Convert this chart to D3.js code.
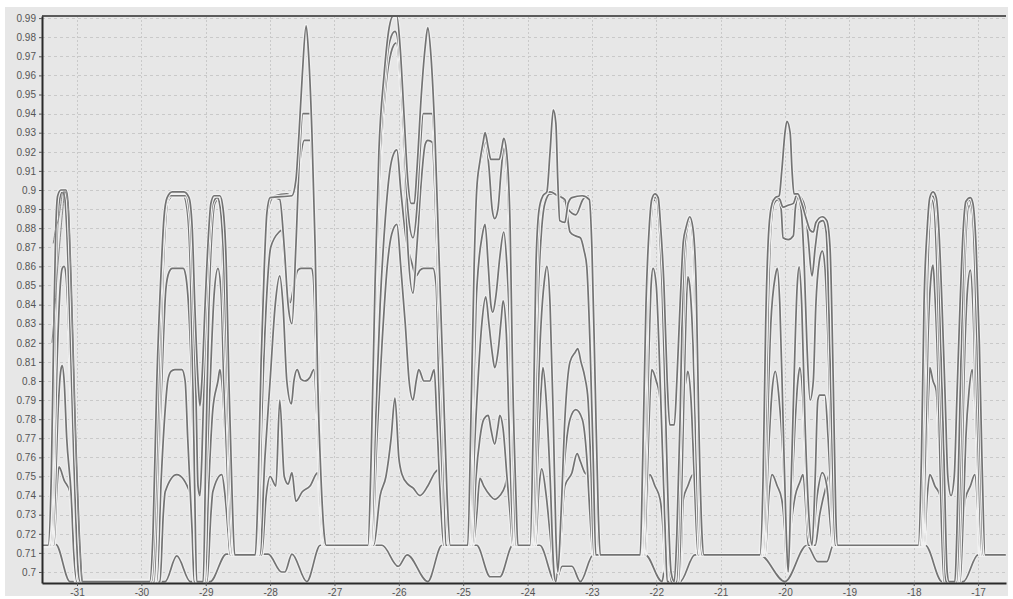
<!DOCTYPE html>
<html lang="en">
<head>
<meta charset="UTF-8">
<title>Pulse traces</title>
<script src="https://d3js.org/d3.v7.min.js"></script>
<style>
  body { margin: 0; background: #fff; }
  .tick text { font-family: "Liberation Sans", Arial, sans-serif; font-size: 10px; fill: #555; }
</style>
</head>
<body>
<script>
// tick values
const xTicks = [-31, -30, -29, -28, -27, -26, -25, -24, -23, -22, -21, -20, -19, -18, -17];
const yTicks = [0.70, 0.71, 0.72, 0.73, 0.74, 0.75, 0.76, 0.77, 0.78, 0.79, 0.80, 0.81, 0.82, 0.83, 0.84,
  0.85, 0.86, 0.87, 0.88, 0.89, 0.90, 0.91, 0.92, 0.93, 0.94, 0.95, 0.96, 0.97, 0.98, 0.99];

// traces, [x, value]
const s1 = [
  [-31.54,.714],[-31.45,.714],[-31.40,.75],[-31.36,.83],[-31.33,.88],[-31.30,.897],[-31.25,.9],[-31.17,.9],[-31.14,.893],[-31.09,.85],[-31.03,.78],[-30.95,.71],[-30.92,.695],
  [-29.87,.695],[-29.82,.72],[-29.76,.80],[-29.69,.86],[-29.65,.885],[-29.60,.896],[-29.52,.899],[-29.34,.899],[-29.26,.896],[-29.21,.88],[-29.17,.84],[-29.12,.80],[-29.09,.787],[-29.06,.80],[-29.01,.84],[-28.96,.875],[-28.92,.893],[-28.87,.897],[-28.78,.897],[-28.73,.89],[-28.68,.86],[-28.64,.80],[-28.59,.74],[-28.55,.709],
  [-28.23,.709],[-28.19,.74],[-28.14,.81],[-28.09,.86],[-28.05,.888],[-28.00,.896],[-27.66,.897],[-27.60,.905],[-27.55,.93],[-27.50,.96],[-27.44,.986],[-27.40,.97],[-27.35,.93],[-27.30,.87],[-27.26,.80],[-27.21,.75],[-27.16,.72],[-27.13,.714],
  [-26.48,.714],[-26.43,.76],[-26.37,.85],[-26.31,.92],[-26.23,.96],[-26.15,.985],[-26.09,.991],[-26.03,.991],[-25.98,.975],[-25.92,.94],[-25.86,.905],[-25.81,.893],[-25.76,.893],[-25.72,.91],[-25.65,.95],[-25.59,.975],[-25.55,.985],[-25.50,.97],[-25.44,.93],[-25.38,.87],[-25.31,.80],[-25.25,.74],[-25.20,.714],
  [-24.93,.714],[-24.88,.78],[-24.83,.86],[-24.79,.90],[-24.74,.915],[-24.69,.925],[-24.66,.93],[-24.61,.922],[-24.57,.916],[-24.44,.916],[-24.40,.922],[-24.37,.927],[-24.32,.918],[-24.27,.88],[-24.23,.80],[-24.18,.74],[-24.15,.714],
  [-23.96,.714],[-23.91,.78],[-23.87,.86],[-23.82,.89],[-23.76,.897],[-23.70,.899],[-23.65,.92],[-23.60,.942],[-23.56,.935],[-23.53,.905],[-23.50,.884],[-23.42,.883],[-23.37,.893],[-23.31,.896],[-23.15,.897],[-23.04,.895],[-23.00,.87],[-22.95,.80],[-22.90,.73],[-22.87,.709],
  [-22.25,.709],[-22.21,.76],[-22.16,.84],[-22.11,.88],[-22.07,.895],[-22.02,.898],[-21.97,.896],[-21.93,.88],[-21.88,.85],[-21.83,.80],[-21.79,.777],[-21.72,.777],[-21.68,.80],[-21.63,.84],[-21.58,.873],[-21.54,.88],[-21.48,.886],[-21.43,.88],[-21.38,.85],[-21.34,.78],[-21.29,.72],[-21.26,.709],
  [-20.39,.709],[-20.34,.75],[-20.30,.83],[-20.25,.88],[-20.20,.893],[-20.15,.896],[-20.09,.897],[-20.05,.91],[-20.00,.93],[-19.97,.936],[-19.92,.93],[-19.89,.91],[-19.86,.898],[-19.80,.898],[-19.74,.893],[-19.67,.885],[-19.61,.879],[-19.56,.878],[-19.52,.883],[-19.42,.886],[-19.35,.884],[-19.30,.87],[-19.25,.80],[-19.21,.73],[-19.18,.714],
  [-17.93,.714],[-17.88,.76],[-17.84,.84],[-17.79,.88],[-17.75,.896],[-17.70,.899],[-17.65,.896],[-17.61,.88],[-17.56,.84],[-17.51,.79],[-17.47,.75],[-17.42,.74],[-17.37,.75],[-17.33,.79],[-17.28,.84],[-17.23,.88],[-17.19,.894],[-17.12,.896],[-17.08,.893],[-17.03,.87],[-16.98,.82],[-16.94,.76],[-16.89,.709],
  [-16.57,.709]
];

const s2 = [
  [-31.54,.714],[-31.44,.714],[-31.39,.75],[-31.34,.83],[-31.31,.875],[-31.28,.893],[-31.23,.899],[-31.19,.896],[-31.16,.88],[-31.11,.83],[-31.05,.76],[-30.98,.70],[-30.95,.695],
  [-29.84,.695],[-29.77,.75],[-29.71,.83],[-29.66,.875],[-29.62,.892],[-29.55,.897],[-29.31,.897],[-29.24,.885],[-29.20,.85],[-29.15,.79],[-29.12,.745],[-29.09,.74],[-29.06,.76],[-29.01,.82],[-28.95,.87],[-28.89,.893],[-28.82,.896],[-28.78,.892],[-28.73,.87],[-28.67,.81],[-28.61,.74],[-28.56,.709],
  [-28.22,.709],[-28.17,.76],[-28.13,.83],[-28.08,.87],[-28.03,.89],[-27.95,.896],[-27.85,.895],[-27.78,.87],[-27.72,.84],[-27.66,.83],[-27.60,.87],[-27.54,.92],[-27.49,.94],[-27.38,.94],[-27.33,.91],[-27.29,.85],[-27.24,.78],[-27.19,.73],[-27.15,.714],
  [-26.46,.714],[-26.42,.77],[-26.35,.86],[-26.29,.92],[-26.21,.96],[-26.14,.978],[-26.06,.983],[-26.00,.975],[-25.93,.935],[-25.86,.89],[-25.78,.875],[-25.72,.89],[-25.67,.92],[-25.62,.94],[-25.48,.94],[-25.44,.92],[-25.38,.86],[-25.31,.79],[-25.25,.73],[-25.22,.714],
  [-24.91,.714],[-24.86,.79],[-24.82,.87],[-24.77,.905],[-24.71,.918],[-24.65,.925],[-24.60,.912],[-24.55,.89],[-24.51,.885],[-24.46,.89],[-24.41,.91],[-24.37,.922],[-24.32,.91],[-24.27,.86],[-24.23,.78],[-24.18,.714],
  [-23.95,.714],[-23.90,.79],[-23.85,.86],[-23.81,.89],[-23.74,.898],[-23.65,.899],[-23.53,.897],[-23.42,.895],[-23.34,.878],[-23.26,.876],[-23.18,.875],[-23.12,.868],[-23.08,.86],[-23.03,.82],[-22.98,.76],[-22.94,.709],
  [-22.24,.709],[-22.19,.77],[-22.14,.85],[-22.10,.885],[-22.05,.896],[-22.00,.896],[-21.96,.885],[-21.91,.85],[-21.86,.79],[-21.82,.74],[-21.77,.70],[-21.72,.695],[-21.68,.72],[-21.63,.78],[-21.60,.83],[-21.57,.865],[-21.52,.88],[-21.48,.884],[-21.43,.875],[-21.38,.83],[-21.34,.76],[-21.29,.709],
  [-20.37,.709],[-20.33,.77],[-20.28,.85],[-20.23,.885],[-20.19,.895],[-20.12,.896],[-20.08,.895],[-20.03,.891],[-19.95,.892],[-19.87,.893],[-19.81,.898],[-19.75,.896],[-19.69,.891],[-19.64,.875],[-19.58,.855],[-19.53,.87],[-19.47,.883],[-19.41,.884],[-19.36,.878],[-19.32,.84],[-19.27,.77],[-19.22,.714],
  [-17.90,.714],[-17.85,.78],[-17.81,.86],[-17.76,.89],[-17.72,.897],[-17.67,.895],[-17.62,.875],[-17.58,.82],[-17.53,.76],[-17.48,.70],[-17.45,.695],[-17.36,.695],[-17.33,.72],[-17.28,.79],[-17.23,.86],[-17.19,.89],[-17.14,.895],[-17.09,.89],[-17.05,.86],[-17.00,.80],[-16.95,.74],[-16.92,.709],
  [-16.57,.709]
];

const s3 = [
  [-31.54,.714],[-31.42,.714],[-31.37,.76],[-31.33,.85],[-31.30,.885],[-31.25,.897],[-31.20,.898],[-31.17,.89],[-31.14,.86],[-31.09,.80],[-31.03,.73],[-30.97,.695],
  [-29.80,.695],[-29.74,.76],[-29.68,.84],[-29.63,.88],[-29.59,.894],[-29.49,.897],[-29.35,.897],[-29.29,.89],[-29.24,.86],[-29.20,.80],[-29.17,.74],[-29.14,.695],[-29.04,.695],[-29.00,.76],[-28.95,.84],[-28.90,.88],[-28.86,.893],[-28.81,.895],[-28.76,.885],[-28.72,.84],[-28.65,.77],[-28.61,.72],[-28.58,.709],
  [-28.20,.709],[-28.16,.79],[-28.11,.85],[-28.06,.88],[-28.00,.893],[-27.92,.897],[-27.74,.898],[-27.67,.897],[-27.61,.90],[-27.54,.915],[-27.47,.926],[-27.38,.926],[-27.33,.90],[-27.27,.84],[-27.22,.77],[-27.18,.72],[-27.15,.714],
  [-26.45,.714],[-26.40,.78],[-26.34,.87],[-26.28,.92],[-26.20,.955],[-26.12,.972],[-26.04,.977],[-25.98,.96],[-25.92,.92],[-25.86,.87],[-25.78,.846],[-25.72,.87],[-25.65,.905],[-25.59,.924],[-25.55,.926],[-25.48,.925],[-25.44,.90],[-25.38,.84],[-25.31,.77],[-25.27,.714],
  [-24.89,.714],[-24.85,.78],[-24.80,.84],[-24.75,.865],[-24.71,.875],[-24.66,.882],[-24.61,.86],[-24.57,.84],[-24.54,.836],[-24.49,.845],[-24.43,.865],[-24.37,.878],[-24.32,.86],[-24.27,.82],[-24.23,.76],[-24.19,.714],
  [-23.93,.714],[-23.88,.78],[-23.84,.84],[-23.79,.875],[-23.73,.893],[-23.65,.898],[-23.56,.898],[-23.46,.896],[-23.37,.89],[-23.25,.887],[-23.14,.895],[-23.06,.897],[-23.01,.88],[-22.97,.82],[-22.92,.74],[-22.89,.709],
  [-22.22,.709],[-22.17,.77],[-22.13,.85],[-22.08,.885],[-22.04,.895],[-21.99,.893],[-21.94,.87],[-21.89,.82],[-21.85,.76],[-21.80,.71],[-21.77,.695],[-21.68,.695],[-21.63,.76],[-21.58,.83],[-21.54,.87],[-21.49,.882],[-21.44,.878],[-21.40,.84],[-21.35,.77],[-21.30,.709],
  [-20.36,.709],[-20.31,.76],[-20.26,.84],[-20.22,.88],[-20.17,.893],[-20.11,.895],[-20.06,.89],[-20.03,.875],[-19.95,.874],[-19.87,.876],[-19.84,.89],[-19.80,.896],[-19.75,.89],[-19.70,.86],[-19.66,.82],[-19.61,.79],[-19.56,.80],[-19.52,.84],[-19.47,.862],[-19.42,.868],[-19.38,.86],[-19.33,.82],[-19.28,.76],[-19.24,.714],
  [-17.88,.714],[-17.84,.78],[-17.79,.85],[-17.75,.885],[-17.72,.895],[-17.68,.89],[-17.64,.86],[-17.59,.80],[-17.54,.74],[-17.51,.70],[-17.50,.695],[-17.33,.695],[-17.28,.75],[-17.23,.83],[-17.19,.875],[-17.14,.892],[-17.11,.89],[-17.06,.86],[-17.02,.79],[-16.97,.73],[-16.94,.709],
  [-16.57,.709]
];

const s4 = [
  [-31.54,.714],[-31.40,.714],[-31.36,.75],[-31.31,.81],[-31.26,.85],[-31.23,.859],[-31.20,.86],[-31.17,.855],[-31.12,.82],[-31.06,.76],[-31.00,.71],[-30.97,.695],
  [-29.79,.695],[-29.73,.76],[-29.66,.82],[-29.62,.848],[-29.57,.857],[-29.52,.859],[-29.35,.859],[-29.31,.855],[-29.26,.835],[-29.21,.79],[-29.17,.73],[-29.14,.695],[-29.04,.695],[-29.00,.74],[-28.93,.80],[-28.87,.845],[-28.81,.859],[-28.76,.845],[-28.72,.80],[-28.65,.74],[-28.59,.709],
  [-28.19,.709],[-28.13,.78],[-28.06,.84],[-27.99,.87],[-27.86,.878],[-27.82,.879],[-27.77,.86],[-27.69,.841],[-27.63,.85],[-27.57,.858],[-27.52,.859],[-27.36,.859],[-27.33,.855],[-27.29,.82],[-27.24,.76],[-27.19,.72],[-27.16,.714],
  [-26.43,.714],[-26.37,.77],[-26.29,.84],[-26.21,.885],[-26.14,.91],[-26.08,.919],[-26.03,.921],[-25.97,.90],[-25.89,.875],[-25.80,.862],[-25.73,.855],[-25.67,.858],[-25.62,.859],[-25.47,.859],[-25.42,.85],[-25.38,.80],[-25.31,.74],[-25.27,.714],
  [-24.88,.714],[-24.83,.76],[-24.77,.80],[-24.71,.83],[-24.65,.844],[-24.60,.83],[-24.55,.815],[-24.51,.807],[-24.46,.815],[-24.41,.832],[-24.38,.842],[-24.33,.825],[-24.29,.78],[-24.24,.73],[-24.21,.714],
  [-23.91,.714],[-23.85,.78],[-23.79,.83],[-23.74,.852],[-23.70,.86],[-23.65,.84],[-23.60,.78],[-23.56,.72],[-23.53,.70],[-23.48,.73],[-23.42,.78],[-23.34,.81],[-23.26,.815],[-23.22,.817],[-23.17,.81],[-23.11,.802],[-23.06,.79],[-23.01,.75],[-22.97,.709],
  [-22.21,.709],[-22.16,.76],[-22.11,.82],[-22.08,.85],[-22.05,.859],[-22.00,.85],[-21.96,.82],[-21.91,.77],[-21.86,.72],[-21.83,.695],[-21.65,.695],[-21.60,.75],[-21.55,.82],[-21.51,.8545],[-21.48,.85],[-21.43,.82],[-21.37,.75],[-21.32,.709],
  [-20.34,.709],[-20.28,.77],[-20.22,.83],[-20.15,.855],[-20.12,.859],[-20.08,.84],[-20.03,.78],[-19.98,.72],[-19.95,.70],[-19.91,.74],[-19.86,.80],[-19.81,.85],[-19.78,.8597],[-19.74,.84],[-19.69,.78],[-19.63,.73],[-19.58,.714],[-19.53,.75],[-19.49,.79],[-19.46,.7926],[-19.38,.7926],[-19.33,.77],[-19.27,.73],[-19.24,.714],
  [-17.87,.714],[-17.82,.76],[-17.78,.82],[-17.73,.855],[-17.70,.8607],[-17.67,.845],[-17.62,.80],[-17.58,.74],[-17.53,.695],[-17.31,.695],[-17.26,.74],[-17.22,.80],[-17.17,.845],[-17.12,.858],[-17.08,.84],[-17.03,.78],[-16.98,.73],[-16.95,.709],
  [-16.57,.709]
];

const s5 = [
  [-31.54,.714],[-31.39,.714],[-31.34,.74],[-31.30,.78],[-31.25,.806],[-31.23,.808],[-31.20,.80],[-31.16,.77],[-31.09,.74],[-31.05,.71],[-31.00,.695],
  [-29.76,.695],[-29.69,.75],[-29.63,.785],[-29.59,.80],[-29.54,.805],[-29.48,.806],[-29.37,.806],[-29.32,.80],[-29.28,.77],[-29.21,.72],[-29.18,.695],[-29.01,.695],[-28.96,.74],[-28.89,.785],[-28.81,.80],[-28.78,.806],[-28.75,.80],[-28.68,.76],[-28.62,.72],[-28.59,.709],
  [-28.16,.709],[-28.08,.76],[-28.00,.80],[-27.92,.84],[-27.85,.855],[-27.80,.84],[-27.74,.80],[-27.67,.788],[-27.63,.80],[-27.58,.806],[-27.52,.801],[-27.46,.80],[-27.38,.802],[-27.32,.806],[-27.27,.78],[-27.22,.74],[-27.18,.714],
  [-26.42,.714],[-26.34,.77],[-26.26,.82],[-26.18,.86],[-26.11,.877],[-26.03,.882],[-25.97,.86],[-25.90,.83],[-25.84,.80],[-25.78,.79],[-25.73,.80],[-25.69,.806],[-25.61,.80],[-25.52,.80],[-25.45,.806],[-25.41,.78],[-25.34,.73],[-25.30,.714],
  [-24.86,.714],[-24.80,.75],[-24.74,.77],[-24.68,.78],[-24.61,.782],[-24.57,.775],[-24.51,.767],[-24.46,.776],[-24.43,.782],[-24.38,.775],[-24.32,.75],[-24.27,.73],[-24.23,.714],
  [-23.90,.714],[-23.84,.76],[-23.79,.795],[-23.76,.807],[-23.71,.79],[-23.65,.75],[-23.59,.70],[-23.56,.695],[-23.50,.72],[-23.42,.76],[-23.34,.78],[-23.25,.785],[-23.15,.78],[-23.08,.76],[-23.03,.73],[-22.98,.709],
  [-22.19,.709],[-22.14,.75],[-22.10,.79],[-22.07,.806],[-22.00,.80],[-21.94,.79],[-21.89,.75],[-21.85,.70],[-21.82,.695],[-21.66,.695],[-21.63,.73],[-21.58,.79],[-21.54,.80],[-21.51,.805],[-21.46,.79],[-21.41,.75],[-21.35,.709],
  [-20.33,.709],[-20.26,.76],[-20.20,.795],[-20.15,.805],[-20.09,.79],[-20.03,.76],[-19.98,.72],[-19.95,.70],[-19.91,.73],[-19.84,.78],[-19.80,.80],[-19.77,.807],[-19.72,.79],[-19.67,.75],[-19.63,.72],[-19.58,.714],[-19.50,.74],[-19.42,.752],[-19.35,.745],[-19.28,.72],[-19.25,.714],
  [-17.85,.714],[-17.81,.76],[-17.76,.80],[-17.75,.807],[-17.70,.80],[-17.65,.795],[-17.61,.77],[-17.56,.73],[-17.53,.695],[-17.28,.695],[-17.23,.73],[-17.19,.77],[-17.14,.795],[-17.09,.806],[-17.05,.79],[-17.00,.75],[-16.97,.709],
  [-16.57,.709]
];

const s6 = [
  [-31.54,.714],[-31.36,.714],[-31.31,.745],[-31.28,.755],[-31.20,.748],[-31.11,.742],[-31.06,.72],[-31.02,.695],
  [-29.71,.695],[-29.66,.73],[-29.63,.742],[-29.45,.751],[-29.24,.741],[-29.21,.72],[-29.18,.695],[-28.98,.695],[-28.92,.73],[-28.89,.742],[-28.75,.751],[-28.70,.74],[-28.65,.72],[-28.62,.709],
  [-28.13,.709],[-28.06,.74],[-28.00,.75],[-27.91,.745],[-27.85,.79],[-27.78,.75],[-27.72,.746],[-27.66,.752],[-27.60,.737],[-27.50,.742],[-27.38,.745],[-27.26,.752],[-27.21,.73],[-27.16,.714],
  [-26.39,.714],[-26.29,.74],[-26.20,.75],[-26.12,.77],[-26.06,.791],[-26.00,.76],[-25.95,.751],[-25.86,.746],[-25.78,.744],[-25.67,.74],[-25.55,.745],[-25.44,.752],[-25.36,.754],[-25.31,.73],[-25.28,.714],
  [-24.85,.714],[-24.79,.73],[-24.74,.749],[-24.68,.745],[-24.58,.74],[-24.51,.738],[-24.43,.74],[-24.35,.745],[-24.32,.749],[-24.27,.73],[-24.23,.714],
  [-23.88,.714],[-23.82,.745],[-23.78,.754],[-23.71,.74],[-23.65,.72],[-23.57,.695],[-23.50,.71],[-23.42,.745],[-23.31,.752],[-23.23,.762],[-23.18,.758],[-23.11,.752],[-23.03,.75],[-22.98,.73],[-22.94,.709],
  [-22.17,.709],[-22.14,.74],[-22.10,.751],[-22.02,.745],[-21.94,.738],[-21.89,.72],[-21.86,.70],[-21.63,.70],[-21.58,.738],[-21.51,.745],[-21.43,.751],[-21.38,.73],[-21.35,.709],
  [-20.31,.709],[-20.25,.74],[-20.20,.751],[-20.12,.745],[-20.05,.738],[-20.00,.72],[-19.97,.70],[-19.92,.72],[-19.84,.74],[-19.77,.747],[-19.72,.751],[-19.67,.73],[-19.64,.714],[-19.53,.714],[-19.46,.73],[-19.36,.745],[-19.30,.752],[-19.27,.73],[-19.24,.714],
  [-17.84,.714],[-17.79,.74],[-17.75,.751],[-17.67,.745],[-17.59,.74],[-17.54,.72],[-17.51,.695],[-17.30,.695],[-17.25,.72],[-17.20,.738],[-17.12,.745],[-17.05,.751],[-17.00,.73],[-16.97,.709],
  [-16.57,.709]
];

const s7 = [
  [-31.54,.7145],[-31.33,.7145],[-31.11,.695],[-29.63,.695],[-29.45,.7084],[-29.24,.695],[-28.93,.695],[-28.68,.7094],[-28.03,.7094],[-27.82,.70],[-27.77,.70],[-27.66,.7094],[-27.43,.695],[-27.22,.714],
  [-26.26,.714],[-26.01,.703],[-25.87,.709],[-25.55,.695],[-25.33,.714],[-24.79,.714],[-24.58,.6975],[-24.43,.6975],[-24.23,.714],[-23.81,.714],[-23.57,.695],[-23.46,.703],[-23.31,.703],[-23.18,.695],[-22.98,.709],
  [-22.17,.709],[-21.91,.695],[-21.86,.7035],[-21.79,.6995],[-21.71,.698],[-21.63,.695],[-21.40,.709],[-20.39,.709],[-20.00,.695],[-19.66,.714],[-19.49,.7054],[-19.35,.7054],[-19.25,.714],
  [-17.82,.714],[-17.56,.695],[-17.23,.695],[-17.00,.709],[-16.57,.709]
];

// two traces that begin late, near the left edge
const p1 = [[-31.39,.82],[-31.34,.84],[-31.31,.855],[-31.26,.875],[-31.22,.89],[-31.19,.899],[-31.14,.893],[-31.09,.85],[-31.03,.78],[-30.95,.71],[-30.92,.695]];
const p2 = [[-31.37,.872],[-31.33,.88],[-31.28,.886],[-31.25,.893],[-31.22,.899],[-31.17,.899],[-31.14,.892]];

const W = 1013, H = 599;
const plotL = 42, plotR = 1006, plotT = 16, plotB = 583;

const svg = d3.select("body").append("svg")
  .attr("width", W)
  .attr("height", H);

svg.append("rect").attr("width", W).attr("height", H).attr("fill", "#fff");
svg.append("rect")
  .attr("x", 5).attr("y", 7)
  .attr("width", 1003).attr("height", 589)
  .attr("fill", "#e7e7e7");

const x = d3.scaleLinear().domain([-31.544, -16.566]).range([plotL, plotR]);
const y = d3.scaleLinear().domain([0.69424, 0.9911]).range([plotB, plotT]);

// grid
svg.append("g")
  .selectAll("line")
  .data(yTicks)
  .join("line")
  .attr("x1", plotL).attr("x2", plotR)
  .attr("y1", d => Math.round(y(d)) + 0.5).attr("y2", d => Math.round(y(d)) + 0.5)
  .attr("stroke", "#c9c9c9")
  .attr("stroke-dasharray", "3,3");

svg.append("g")
  .selectAll("line")
  .data(xTicks)
  .join("line")
  .attr("x1", d => Math.round(x(d)) + 0.5).attr("x2", d => Math.round(x(d)) + 0.5)
  .attr("y1", plotT).attr("y2", plotB)
  .attr("stroke", "#c9c9c9")
  .attr("stroke-dasharray", "2,2");

svg.append("clipPath").attr("id", "plot")
  .append("rect")
  .attr("x", plotL).attr("y", plotT)
  .attr("width", plotR - plotL).attr("height", plotB - plotT);

const line = d3.line()
  .x(d => x(d[0]))
  .y(d => y(d[1]))
  .curve(d3.curveMonotoneX);

const traces = [s7, s6, s5, s4, s3, s2, s1];
const g = svg.append("g").attr("clip-path", "url(#plot)");

traces.forEach(t => {
  g.append("path")
    .attr("d", line(t))
    .attr("fill", "none")
    .attr("stroke", "#f1f1f1")
    .attr("stroke-width", 3.8);
  g.append("path")
    .attr("d", line(t))
    .attr("fill", "none")
    .attr("stroke", "#737373")
    .attr("stroke-width", 1.7);
});

[p1, p2].forEach(t => {
  g.append("path")
    .attr("d", line(t))
    .attr("fill", "none")
    .attr("stroke", "#8a8a8a")
    .attr("stroke-width", 1);
});

// frame
svg.append("line")
  .attr("x1", plotL).attr("x2", plotR)
  .attr("y1", plotT).attr("y2", plotT)
  .attr("stroke", "#5a5a5a").attr("stroke-width", 2);

const yAxis = svg.append("g")
  .attr("transform", `translate(${plotL},0)`)
  .call(d3.axisLeft(y).tickValues(yTicks).tickFormat(d3.format(".2~f")).tickSize(3).tickPadding(3).tickSizeOuter(0));

const xAxis = svg.append("g")
  .attr("transform", `translate(0,${plotB})`)
  .call(d3.axisBottom(x).tickValues(xTicks).tickFormat(d => d).tickSize(3).tickPadding(3).tickSizeOuter(0));

[yAxis, xAxis].forEach(a => {
  a.select(".domain").attr("stroke", "#2a2a2a").attr("stroke-width", 2);
  a.selectAll(".tick line").attr("stroke", "#555");
});
</script>
</body>
</html>
